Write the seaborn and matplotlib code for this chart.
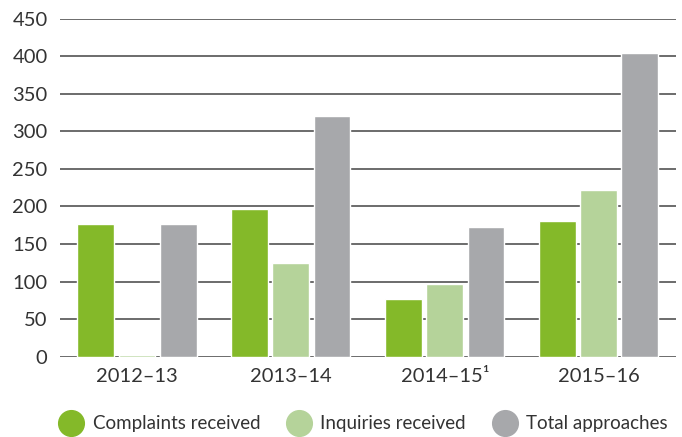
import pandas as pd
import matplotlib.pyplot as plt
import seaborn as sns
from matplotlib.lines import Line2D

years = ['2012–13', '2013–14', '2014–15¹', '2015–16']
complaints = [177, 197, 77, 181]
inquiries = [2, 125, 97, 222]
total = [177, 321, 173, 404]
series = ['Complaints received', 'Inquiries received', 'Total approaches']
colors = ['#84b929', '#b5d39a', '#a7a8ab']

df = pd.DataFrame({
    'year': years * 3,
    'value': complaints + inquiries + total,
    'series': [s for s in series for _ in years],
})

sns.set_style('white')
plt.rcParams['font.family'] = ['Lato', 'DejaVu Sans']

fig = plt.figure(figsize=(6.82, 4.37), dpi=100)
ax = fig.add_axes([0.088, 0.184, 0.903, 0.773])

sns.barplot(data=df, x='year', y='value', hue='series', palette=colors,
            width=0.8, gap=0.1, saturation=1, legend=False, ax=ax, zorder=3)

ax.set_ylim(0, 450)
ax.set_xlim(-0.5, 3.5)
ax.set_yticks(range(0, 451, 50))
ax.yaxis.grid(True, color='#444444', linewidth=1.1, zorder=0)
ax.set_axisbelow(True)
for s in ax.spines.values():
    s.set_visible(False)
ax.tick_params(length=0, labelsize=14.5, colors='#333333')
ax.tick_params(axis='x', pad=8)
ax.tick_params(axis='y', pad=9)
ax.set_xlabel('')
ax.set_ylabel('')

handles = [Line2D([], [], marker='o', linestyle='', markersize=18.5,
                  markerfacecolor=c, markeredgecolor=c) for c in colors]
fig.legend(handles, series, loc='center', bbox_to_anchor=(0.528, 0.03),
           ncol=3, frameon=False, fontsize=13.5, handletextpad=0.15,
           columnspacing=1.05, labelcolor='#333333')

fig.savefig('out.png', dpi=100)
